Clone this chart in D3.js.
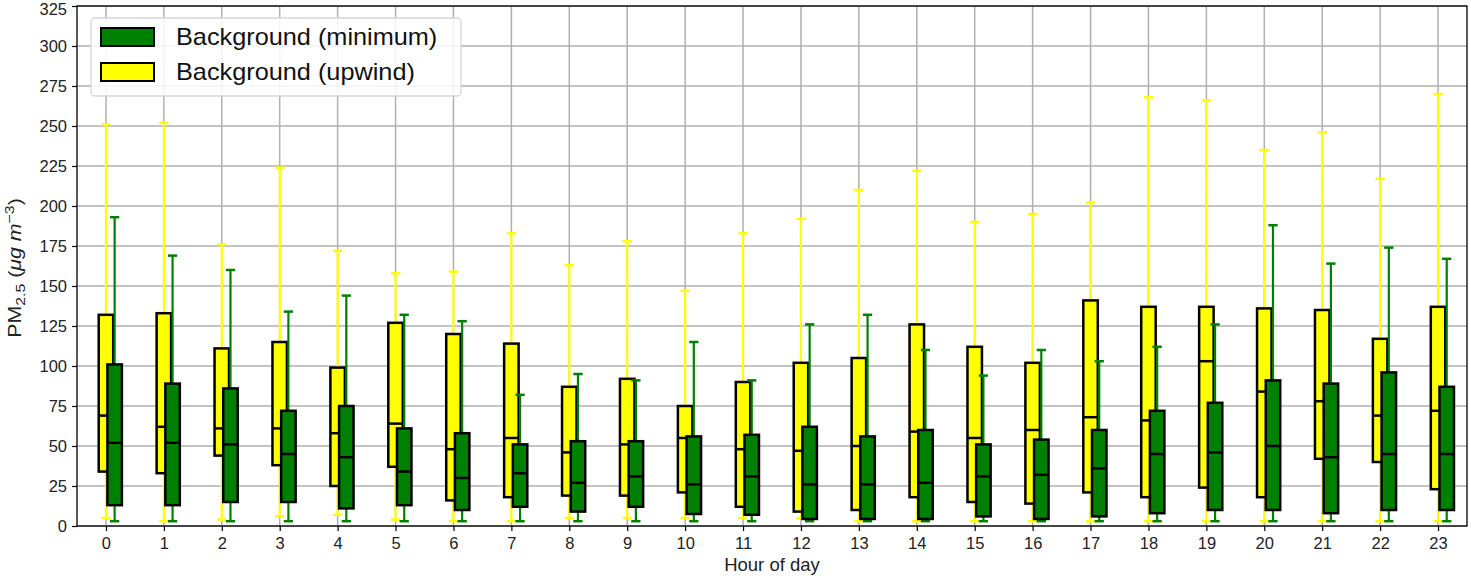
<html>
<head>
<meta charset="utf-8">
<style>
    body { margin: 0; background: #fff; }
    svg { display: block; font-family: Arial, 'Liberation Sans', sans-serif; }
    .axis .tick text { font-size: 16.5px; fill: #222; }
    .axis .tick line { stroke: #000; stroke-width: 1.2; }
    .axis .domain { display: none; }
    .grid line { stroke: #b0b0b0; stroke-width: 1.5; }
</style>
</head>
<body>
<svg width="1471" height="576"></svg>

<script src="https://cdn.jsdelivr.net/npm/d3@7"></script>
<script>
    // hours on the x axis
    let hours = d3.range(0, 24)
    let yTicks = [0, 25, 50, 75, 100, 125, 150, 175, 200, 225, 250, 275, 300, 325]

    // Background (upwind) - yellow boxes
    let upHi  = [251, 252, 176, 224, 172, 158, 159, 183, 163, 178, 147, 183, 192, 210, 222, 190, 195, 202, 268, 266, 235, 246, 217, 270]
    let upQ3  = [132, 133, 111, 115, 99, 127, 120, 114, 87, 92, 75, 90, 102, 105, 126, 112, 102, 141, 137, 137, 136, 135, 117, 137]
    let upMed = [69, 62, 61, 61, 58, 64, 48, 55, 46, 51, 55, 48, 47, 50, 59, 55, 60, 68, 66, 103, 84, 78, 69, 72]
    let upQ1  = [34, 33, 44, 38, 25, 37, 16, 18, 19, 19, 21, 12, 9, 10, 18, 15, 14, 21, 18, 24, 18, 42, 40, 23]
    let upLo  = [5, 3, 4, 6, 7, 4, 3, 3, 5, 5, 5, 5, 5, 3, 3, 3, 3, 3, 3, 3, 3, 3, 3, 3]

    // Background (minimum) - green boxes
    let minHi  = [193, 169, 160, 134, 144, 132, 128, 82, 95, 91, 115, 91, 126, 132, 110, 94, 110, 103, 112, 126, 188, 164, 174, 167]
    let minQ3  = [101, 89, 86, 72, 75, 61, 58, 51, 53, 53, 56, 57, 62, 56, 60, 51, 54, 60, 72, 77, 91, 89, 96, 87]
    let minMed = [52, 52, 51, 45, 43, 34, 30, 33, 27, 31, 26, 31, 26, 26, 27, 31, 32, 36, 45, 46, 50, 43, 45, 45]
    let minQ1  = [13, 13, 15, 15, 11, 13, 10, 12, 9, 12, 7.5, 7, 4.4, 4.4, 4.4, 6, 4.4, 6, 8, 10, 10, 8, 10, 10]
    let minLo  = [3, 3, 3, 3, 3, 3, 3, 3, 3, 3, 3, 3, 3, 3, 3, 3, 3, 3, 3, 3, 3, 3, 3, 3]

    let margin = {top: 6, right: 4, bottom: 50, left: 77}
    let width = 1471
    let height = 576

    let svg = d3.select("svg")

    let x = d3.scaleLinear()
        .domain([-0.5, 23.5])
        .range([margin.left, width - margin.right])

    let y = d3.scaleLinear()
        .domain([0, 325])
        .range([height - margin.bottom, margin.top])

    // grid
    svg.append("g")
        .attr("class", "grid")
        .selectAll("line.h")
        .data(yTicks)
        .join("line")
        .attr("x1", x(-0.5)).attr("x2", x(23.5))
        .attr("y1", d => y(d)).attr("y2", d => y(d))

    svg.select(".grid")
        .selectAll("line.v")
        .data(hours)
        .join(enter => enter.append("line"))
        .attr("class", "v")
        .attr("x1", d => x(d)).attr("x2", d => x(d))
        .attr("y1", y(0)).attr("y2", y(325))

    let series = [
        {name: "upwind", offset: 0, fill: "#ffff00", whisk: "#ffff00",
         hi: upHi, q3: upQ3, med: upMed, q1: upQ1, lo: upLo},
        {name: "minimum", offset: 0.15, fill: "#008000", whisk: "#008000",
         hi: minHi, q3: minQ3, med: minMed, q1: minQ1, lo: minLo}
    ]

    let boxW = 0.25
    let capW = 0.16

    series.forEach(s => {
        let rows = hours.map((h, i) => ({
            h: h + s.offset, hi: s.hi[i], q3: s.q3[i], med: s.med[i], q1: s.q1[i], lo: s.lo[i]
        }))
        let g = svg.append("g").attr("class", "box-" + s.name)

        // whiskers
        g.selectAll("line.wu").data(rows).join("line")
            .attr("x1", d => x(d.h)).attr("x2", d => x(d.h))
            .attr("y1", d => y(d.q3)).attr("y2", d => y(d.hi))
            .attr("stroke", s.whisk).attr("stroke-width", 2.2)
        g.selectAll("line.wl").data(rows).join(enter => enter.append("line"))
            .attr("class", "wl")
            .attr("x1", d => x(d.h)).attr("x2", d => x(d.h))
            .attr("y1", d => y(d.q1)).attr("y2", d => y(d.lo))
            .attr("stroke", s.whisk).attr("stroke-width", 2.2)

        // caps
        g.selectAll("line.cu").data(rows).join(enter => enter.append("line"))
            .attr("class", "cu")
            .attr("x1", d => x(d.h - capW / 2)).attr("x2", d => x(d.h + capW / 2))
            .attr("y1", d => y(d.hi)).attr("y2", d => y(d.hi))
            .attr("stroke", s.whisk).attr("stroke-width", 2.5)
        g.selectAll("line.cl").data(rows).join(enter => enter.append("line"))
            .attr("class", "cl")
            .attr("x1", d => x(d.h - capW / 2)).attr("x2", d => x(d.h + capW / 2))
            .attr("y1", d => y(d.lo)).attr("y2", d => y(d.lo))
            .attr("stroke", s.whisk).attr("stroke-width", 2.5)

        // boxes
        g.selectAll("rect").data(rows).join("rect")
            .attr("x", d => x(d.h - boxW / 2))
            .attr("width", x(boxW) - x(0))
            .attr("y", d => y(d.q3))
            .attr("height", d => y(d.q1) - y(d.q3))
            .attr("fill", s.fill)
            .attr("stroke", "#000")
            .attr("stroke-width", 2.5)

        // medians
        g.selectAll("line.md").data(rows).join(enter => enter.append("line"))
            .attr("class", "md")
            .attr("x1", d => x(d.h - boxW / 2)).attr("x2", d => x(d.h + boxW / 2))
            .attr("y1", d => y(d.med)).attr("y2", d => y(d.med))
            .attr("stroke", "#000").attr("stroke-width", 2.5)
    })

    // axes
    svg.append("g")
        .attr("class", "axis")
        .attr("transform", `translate(${margin.left},0)`)
        .call(d3.axisLeft(y).tickValues(yTicks).tickSize(5).tickPadding(5))
        .call(g => g.selectAll(".tick text").filter(d => d == 325).attr("dy", "0.52em"))

    svg.append("g")
        .attr("class", "axis")
        .attr("transform", `translate(0,${height - margin.bottom})`)
        .call(d3.axisBottom(x).tickValues(hours).tickSize(5).tickPadding(6))

    // frame
    svg.append("rect")
        .attr("x", x(-0.5)).attr("y", y(325))
        .attr("width", x(23.5) - x(-0.5))
        .attr("height", y(0) - y(325))
        .attr("fill", "none")
        .attr("stroke", "#000")
        .attr("stroke-width", 1.3)

    // axis labels
    svg.append("text")
        .attr("x", (x(-0.5) + x(23.5)) / 2)
        .attr("y", 571)
        .attr("text-anchor", "middle")
        .style("font-size", "18.5px")
        .style("fill", "#222")
        .text("Hour of day")

    let yl = svg.append("text")
        .attr("transform", `translate(21,${(y(0) + y(325)) / 2 + 2}) rotate(-90) scale(1.22,1)`)
        .attr("text-anchor", "middle")
        .style("font-size", "17.5px")
        .style("fill", "#222")
    yl.append("tspan").text("PM")
    yl.append("tspan").attr("dy", 4).style("font-size", "13px").text("2.5")
    yl.append("tspan").attr("dy", -4).text(" (")
    yl.append("tspan").style("font-style", "italic").text("μg m")
    yl.append("tspan").attr("dy", -7).style("font-size", "13px").text("−3")
    yl.append("tspan").attr("dy", 7).text(")")

    // legend
    let legendItems = [
        {label: "Background (minimum)", fill: "#008000"},
        {label: "Background (upwind)", fill: "#ffff00"}
    ]
    let lg = svg.append("g")
    lg.append("rect")
        .attr("x", 91).attr("y", 18)
        .attr("width", 370).attr("height", 78)
        .attr("rx", 4)
        .attr("fill", "rgba(255,255,255,0.85)")
        .attr("stroke", "#d6d6d6")
        .attr("stroke-width", 1.3)

    legendItems.forEach((d, i) => {
        let cy = 37 + i * 35
        lg.append("rect")
            .attr("x", 101).attr("y", cy - 9)
            .attr("width", 53).attr("height", 18)
            .attr("fill", d.fill)
            .attr("stroke", "#000")
            .attr("stroke-width", 2)
        lg.append("text")
            .attr("transform", `translate(176,${cy + 8}) scale(1.1,1)`)
            .style("font-size", "23px")
            .style("fill", "#111")
            .text(d.label)
    })
</script>
</body>
</html>
